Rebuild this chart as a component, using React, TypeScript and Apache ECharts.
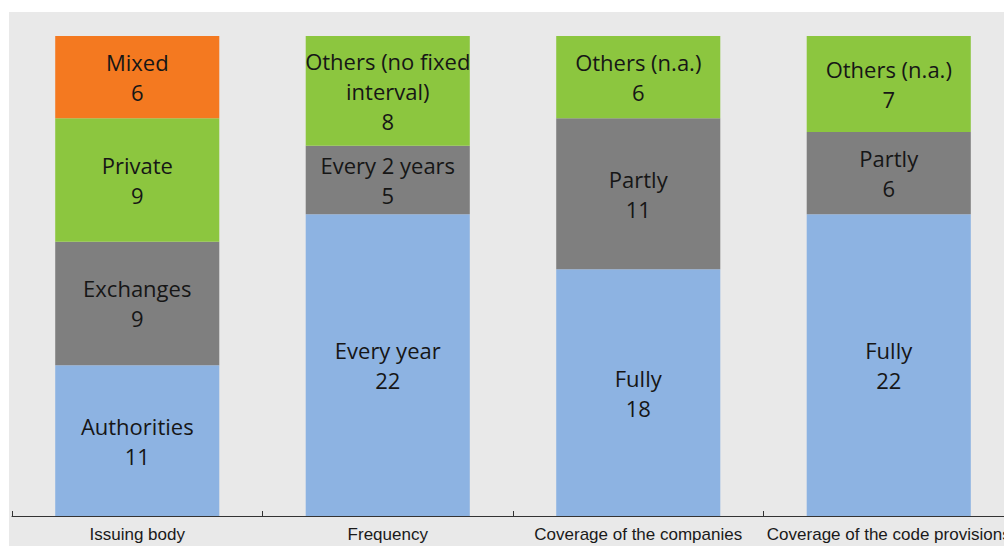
import React, { useEffect, useRef } from "react";
import * as echarts from "echarts";

// Categories along the x axis
const categories = [
  "Issuing body",
  "Frequency",
  "Coverage of the companies",
  "Coverage of the code provisions",
];

// Segment names per category, bottom to top
const segmentNames: string[][] = [
  ["Authorities", "Exchanges", "Private", "Mixed"],
  ["Every year", "Every 2 years", "Others (no fixed\ninterval)"],
  ["Fully", "Partly", "Others (n.a.)"],
  ["Fully", "Partly", "Others (n.a.)"],
];

// Segment counts per category, bottom to top
const segmentValues: number[][] = [
  [11, 9, 9, 6],
  [22, 5, 8],
  [18, 11, 6],
  [22, 6, 7],
];

// Colour for each stack level, bottom to top
const levelColors = ["#8DB3E2", "#7F7F7F", "#8CC63F", "#F47920"];

const yMax = 35;

export default function App() {
  const ref = useRef<HTMLDivElement>(null);

  useEffect(() => {
    if (!ref.current) return;
    const chart = echarts.init(ref.current, null, { renderer: "svg" });

    const levels = Math.max(...segmentValues.map((v) => v.length));
    const series = [];
    for (let lvl = 0; lvl < levels; lvl++) {
      series.push({
        type: "bar",
        stack: "total",
        barWidth: "65.5%",
        itemStyle: { color: levelColors[lvl] },
        label: {
          show: true,
          position: "inside",
          fontFamily: "'Open Sans', sans-serif",
          fontSize: 22,
          lineHeight: 30,
          color: "#161616",
          formatter: (p: any) => `${p.data.segment}\n${p.value}`,
        },
        data: categories.map((_, ci) =>
          segmentValues[ci][lvl] === undefined
            ? "-"
            : { value: segmentValues[ci][lvl], segment: segmentNames[ci][lvl] }
        ),
      });
    }

    chart.setOption({
      animation: false,
      graphic: [
        {
          type: "rect",
          z: -10,
          silent: true,
          shape: { x: 9, y: 12, width: 1000, height: 540 },
          style: { fill: "#E9E9E9" },
        },
      ],
      grid: {
        left: 12,
        top: 36,
        width: 1002,
        height: 480,
        outerBoundsMode: "none",
        containLabel: false,
      },
      xAxis: {
        type: "category",
        data: categories,
        axisLine: { lineStyle: { color: "#333", width: 1 } },
        axisTick: { show: true, inside: true, length: 5, lineStyle: { color: "#333" } },
        axisLabel: {
          margin: 10,
          fontFamily: "'Liberation Sans', Arial, sans-serif",
          fontSize: 17,
          color: "#1a1a1a",
          interval: 0,
          hideOverlap: false,
        },
      },
      yAxis: { type: "value", min: 0, max: yMax, show: false },
      series,
    });

    return () => chart.dispose();
  }, []);

  return (
    <div
      ref={ref}
      style={{ position: "absolute", left: 0, top: 0, width: 1004, height: 546, background: "#fff" }}
    />
  );
}
